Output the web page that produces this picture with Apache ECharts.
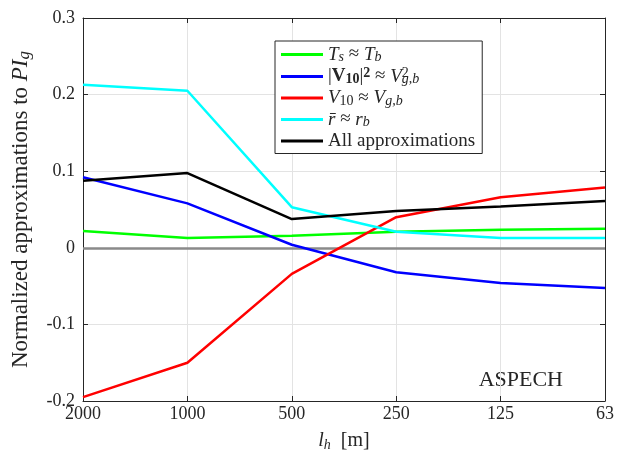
<!DOCTYPE html>
<html>
<head>
<meta charset="utf-8">
<script src="https://cdn.jsdelivr.net/npm/echarts@6/dist/echarts.min.js"></script>
<style>
html,body{margin:0;padding:0;background:#fff;}
#chart{width:630px;height:458px;}
</style>
</head>
<body>
<div id="chart"></div>
<script>
// ---- data ----
var categories = ['2000', '1000', '500', '250', '125', '63'];
var yTicks = [-0.2, -0.1, 0, 0.1, 0.2, 0.3];
var seriesNames = ['Ts', 'V2', 'V10', 'r', 'All'];
var tsTb = [0.022, 0.0127, 0.0157, 0.021, 0.0235, 0.025];
var v10sq = [0.092, 0.058, 0.004, -0.032, -0.046, -0.0526];
var v10 = [-0.195, -0.15, -0.034, 0.040, 0.066, 0.0787];
var rBar = [0.213, 0.205, 0.053, 0.021, 0.0127, 0.0127];
var allApprox = [0.0875, 0.0975, 0.0375, 0.048, 0.054, 0.061];
var colors = ['#00ff00', '#0000ff', '#ff0000', '#00ffff', '#000000'];
var seriesData = [tsTb, v10sq, v10, rBar, allApprox];

var FF = '"Liberation Serif", "DejaVu Serif", serif';
function mkRich(fs, lh) {
  var sf = Math.round(fs * 0.72);
  var c = '#262626';
  return {
    n: {fontFamily: FF, fontSize: fs, lineHeight: lh, color: c},
    i: {fontFamily: FF, fontSize: fs, fontStyle: 'italic', lineHeight: lh, color: c},
    b: {fontFamily: FF, fontSize: fs, fontWeight: 'bold', lineHeight: lh, color: c},
    sub: {fontFamily: FF, fontSize: sf, fontStyle: 'italic', lineHeight: lh / 2, verticalAlign: 'bottom', color: c},
    subr: {fontFamily: FF, fontSize: sf, lineHeight: lh / 2, verticalAlign: 'bottom', color: c},
    bsub: {fontFamily: FF, fontSize: sf, fontWeight: 'bold', lineHeight: lh / 2, verticalAlign: 'bottom', color: c},
    bsup: {fontFamily: FF, fontSize: sf, fontWeight: 'bold', lineHeight: lh / 2, verticalAlign: 'top', color: c},
    supz: {fontFamily: FF, fontSize: sf, lineHeight: lh / 2, verticalAlign: 'top', width: 0, color: c}
  };
}
var legendRich = mkRich(19, 20);
var xNameRich = mkRich(20, 22);
var yNameRich = mkRich(23, 24);
var legendText = {
  Ts: '{i|T}{sub|s}{n| ≈ }{i|T}{sub|b}',
  V2: '{n||}{b|V}{bsub|10}{n||}{bsup|2}{n| ≈ }{i|V}{supz|2}{sub|g,b}',
  V10: '{i|V}{subr|10}{n| ≈ }{i|V}{sub|g,b}',
  r: '{i|r\u0304}{n| ≈ }{i|r}{sub|b}',
  All: '{n|All approximations}'
};

var chart = echarts.init(document.getElementById('chart'), null, {renderer: 'canvas'});
var series = seriesNames.map(function (nm, k) {
  var s = {
    name: nm, type: 'line', data: seriesData[k], symbol: 'none',
    lineStyle: {width: 2.5, color: colors[k]}, itemStyle: {color: colors[k]},
    z: 3 + k, animation: false
  };
  if (k === 0) {
    s.markLine = {
      silent: true, symbol: 'none', animation: false, z: 2,
      label: {show: false},
      lineStyle: {color: '#8a8a8a', width: 2.5, type: 'solid', opacity: 1},
      emphasis: {disabled: true},
      data: [{yAxis: 0}]
    };
  }
  return s;
});

var axisCol = '#262626';
var option = {
  animation: false,
  backgroundColor: '#ffffff',
  grid: {left: 83, right: 25, top: 18, bottom: 57, containLabel: false},
  xAxis: [{
    type: 'category', data: categories, boundaryGap: false,
    axisLine: {onZero: false, lineStyle: {color: axisCol, width: 1}},
    axisTick: {inside: true, length: 5, lineStyle: {color: axisCol}},
    axisLabel: {fontFamily: FF, fontSize: 18, color: '#262626', margin: 4},
    splitLine: {show: true, lineStyle: {color: '#e3e3e3', width: 1}},
    name: '{i|l}{sub|h}{n|  [m]}', nameLocation: 'middle', nameGap: 29,
    nameTextStyle: {rich: xNameRich}
  }, {
    type: 'category', data: categories, boundaryGap: false, position: 'top',
    axisLine: {onZero: false, lineStyle: {color: axisCol, width: 1}},
    axisTick: {inside: true, length: 5, lineStyle: {color: axisCol}},
    axisLabel: {show: false}, splitLine: {show: false}
  }],
  yAxis: [{
    type: 'value', min: yTicks[0], max: yTicks[yTicks.length - 1], interval: 0.1,
    axisLine: {show: true, onZero: false, lineStyle: {color: axisCol, width: 1}},
    axisTick: {show: true, inside: true, length: 5, lineStyle: {color: axisCol}},
    axisLabel: {fontFamily: FF, fontSize: 18, color: '#262626', margin: 8,
      formatter: function (v) { return String(Math.round(v * 10) / 10); }},
    splitLine: {show: true, lineStyle: {color: '#e3e3e3', width: 1}},
    name: '{n|Normalized approximations to }{i|PI}{sub|g}', nameLocation: 'middle', nameGap: 50,
    nameTextStyle: {rich: yNameRich}
  }, {
    type: 'value', min: yTicks[0], max: yTicks[yTicks.length - 1], interval: 0.1, position: 'right',
    axisLine: {show: true, onZero: false, lineStyle: {color: axisCol, width: 1}},
    axisTick: {show: true, inside: true, length: 5, lineStyle: {color: axisCol}},
    axisLabel: {show: false}, splitLine: {show: false}
  }],
  legend: {
    orient: 'vertical', left: 275, top: 41,
    data: seriesNames.map(function (n) { return {name: n, icon: 'rect'}; }),
    itemWidth: 42, itemHeight: 3, itemGap: 2,
    padding: [4, 7, 3, 6],
    backgroundColor: '#ffffff', borderColor: '#262626', borderWidth: 1, borderRadius: 0,
    formatter: function (name) { return legendText[name]; },
    textStyle: {rich: legendRich}
  },
  graphic: [{
    type: 'text', right: 67, top: 369,
    style: {text: 'ASPECH', font: '22px ' + FF, fill: '#262626'}
  }],
  series: series
};
chart.setOption(option);
</script>
</body>
</html>
